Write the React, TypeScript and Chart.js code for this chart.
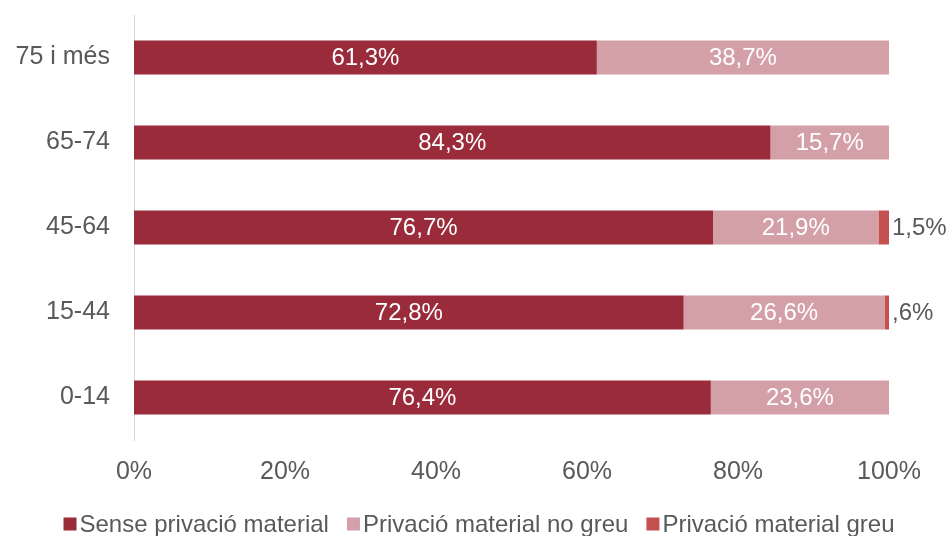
import React, { useEffect, useRef } from "react";
import { Chart, registerables } from "chart.js";

Chart.register(...registerables);

const categories = ["75 i més", "65-74", "45-64", "15-44", "0-14"];
const senseValues = [61.3, 84.3, 76.7, 72.8, 76.4];
const noGreuValues = [38.7, 15.7, 21.9, 26.6, 23.6];
const greuValues = [0, 0, 1.5, 0.6, 0];
const seriesNames = ["Sense privació material", "Privació material no greu", "Privació material greu"];
const seriesColors = ["#992B3A", "#D4A0A7", "#C4514F"];
const xTicks = [0, 20, 40, 60, 80, 100];

const FONT = "'Liberation Sans', Arial, sans-serif";
const TEXT = "#595959";

function fmt(v: number): string {
  let s = v.toFixed(1).replace(".", ",");
  if (s.startsWith("0,")) s = s.slice(1);
  return s + "%";
}

const labelPlugin = {
  id: "barLabels",
  afterDatasetsDraw(chart: any) {
    const ctx = chart.ctx;
    ctx.save();
    ctx.font = `24px ${FONT}`;
    ctx.textBaseline = "middle";
    chart.data.datasets.forEach((ds: any, di: number) => {
      const meta = chart.getDatasetMeta(di);
      meta.data.forEach((bar: any, i: number) => {
        const v = ds.data[i];
        if (!v) return;
        if (di < 2) {
          ctx.fillStyle = "#FFFFFF";
          ctx.textAlign = "center";
          const x = (bar.x + bar.base) / 2;
          ctx.fillText(fmt(v), x, bar.y + 1);
        } else {
          ctx.fillStyle = TEXT;
          ctx.textAlign = "left";
          ctx.fillText(fmt(v), Math.min(bar.x, chart.chartArea.right) + 3, bar.y + 1);
        }
      });
    });
    ctx.restore();
  },
};

const legendPlugin = {
  id: "customLegend",
  afterDraw(chart: any) {
    const ctx = chart.ctx;
    ctx.save();
    ctx.font = `24px ${FONT}`;
    ctx.textBaseline = "middle";
    ctx.textAlign = "left";
    const box = 13;
    const gap = 3;
    const itemGap = 18;
    const items = chart.data.datasets.map((ds: any) => ({
      label: ds.label,
      color: ds.backgroundColor,
      w: box + gap + ctx.measureText(ds.label).width,
    }));
    const total = items.reduce((a: number, it: any) => a + it.w, 0) + itemGap * (items.length - 1);
    let x = (chart.width - total) / 2 + 5;
    const y = chart.height - 12;
    items.forEach((it: any) => {
      ctx.fillStyle = it.color;
      ctx.fillRect(x, y - box / 2, box, box);
      ctx.fillStyle = TEXT;
      ctx.fillText(it.label, x + box + gap, y + 1);
      x += it.w + itemGap;
    });
    ctx.restore();
  },
};

export default function App() {
  const ref = useRef<HTMLCanvasElement>(null);
  useEffect(() => {
    if (!ref.current) return;
    const values = [senseValues, noGreuValues, greuValues];
    const chart = new Chart(ref.current, {
      type: "bar",
      data: {
        labels: categories,
        datasets: values.map((d, i) => ({
          label: seriesNames[i],
          data: d,
          backgroundColor: seriesColors[i],
          borderWidth: 0,
          barPercentage: 0.4,
          categoryPercentage: 1,
        })),
      },
      options: {
        indexAxis: "y",
        animation: false,
        responsive: false,
        maintainAspectRatio: false,
        layout: { padding: { top: 15, right: 59, bottom: 32, left: 0 } },
        plugins: {
          legend: { display: false },
          tooltip: { enabled: false },
        },
        scales: {
          x: {
            stacked: true,
            min: 0,
            max: 100,
            afterBuildTicks: (scale: any) => {
              scale.ticks = xTicks.map((v) => ({ value: v }));
            },
            afterFit: (scale: any) => {
              scale.paddingLeft = 0;
              scale.paddingRight = 0;
            },
            grid: { display: false, drawTicks: false },
            border: { display: false },
            ticks: {
              padding: 17,
              color: TEXT,
              font: { size: 25, family: FONT },
              callback: (v: any) => v + "%",
            },
          },
          y: {
            stacked: true,
            afterFit: (scale: any) => {
              scale.width = 134;
              scale.paddingTop = 0;
              scale.paddingBottom = 0;
            },
            grid: { display: false, drawTicks: false },
            border: { display: true, color: "#D9D9D9", width: 1 },
            ticks: {
              padding: 24,
              color: TEXT,
              font: { size: 25, family: FONT },
            },
          },
        },
      },
      plugins: [labelPlugin, legendPlugin],
    } as any);
    return () => chart.destroy();
  }, []);
  return (
    <div style={{ position: "absolute", left: 0, top: 0, width: 948, height: 536, background: "#fff" }}>
      <canvas ref={ref} width={948} height={536} style={{ width: 948, height: 536 }} />
    </div>
  );
}
